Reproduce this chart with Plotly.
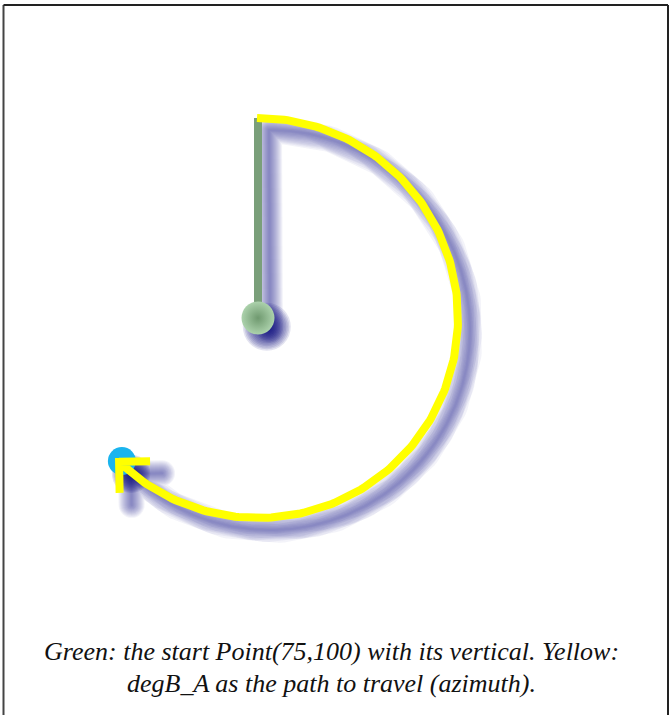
import numpy as np
import plotly.graph_objects as go

# ---- data ----
start_point = [75, 100]          # Point(75,100)
vertical_length = [50]           # length of the vertical (north) reference
degB_A = [224]                   # azimuth to travel (clockwise from north)
caption_lines = ["Green: the start Point(75,100) with its vertical. Yellow:",
                 "degB_A as the path to travel (azimuth)."]

# ---- styles ----
W, H = 670, 715
PX = 4.0                         # pixels per unit
cpx, cpy = 258.0, 318.0          # pixel position of start point
x_range = [start_point[0] - cpx / PX, start_point[0] + (W - cpx) / PX]
y_range = [start_point[1] - (H - cpy) / PX, start_point[1] + cpy / PX]

cx, cy = start_point
r = vertical_length[0]
az = degB_A[0]

# arc geometry (azimuth: clockwise from north)
theta = np.radians(np.linspace(0, az, 240))
ax_ = cx + r * np.sin(theta)
ay_ = cy + r * np.cos(theta)
t_end = np.radians(az)
tipx, tipy = ax_[-1], ay_[-1]
dx, dy = np.cos(t_end), -np.sin(t_end)   # travel direction at the tip
bx, by = -dx, -dy
arm = 31 / PX


def rot(vx, vy, a):
    ca, sa = np.cos(a), np.sin(a)
    return vx * ca - vy * sa, vx * sa + vy * ca


a1 = rot(bx, by, np.radians(45))
a2 = rot(bx, by, np.radians(-45))
yx = [cx - 1 / PX] + list(ax_) + [tipx + arm * a1[0], tipx, tipx + arm * a2[0]]
yy = [cy + r] + list(ay_) + [tipy + arm * a1[1], tipy, tipy + arm * a2[1]]

gx = [cx, cx]
gy = [cy, cy + r]

# shadow path: vertical + arc + arrow as one polyline, offset down-right
off = 12 / PX
sx = [v + off for v in gx[:1] + yx]
sy = [v - off for v in gy[:1] + yy]

fig = go.Figure()

shadow_rgb = "30,30,150"
for w in range(2, 27, 2):
    fig.add_trace(go.Scatter(x=sx, y=sy, mode="lines",
                             line=dict(color=f"rgba({shadow_rgb},0.055)", width=w),
                             hoverinfo="skip", showlegend=False))
for s in range(6, 50, 3):
    fig.add_trace(go.Scatter(x=[cx + 2.2, tipx + off], y=[cy - 2.2, tipy - off], mode="markers",
                             marker=dict(size=[s, s * 0.8], color="rgba(15,15,130,0.17)", line=dict(width=0)),
                             hoverinfo="skip", showlegend=False))

# green vertical
fig.add_trace(go.Scatter(x=gx, y=gy, mode="lines",
                         line=dict(color="#7a9f7a", width=8),
                         hoverinfo="skip", showlegend=False))
# green start point
fig.add_trace(go.Scatter(x=[cx], y=[cy], mode="markers",
                         marker=dict(size=33, color="#acd2ac",
                                     gradient=dict(type="radial", color="#6f996f"),
                                     line=dict(width=0)),
                         hoverinfo="skip", showlegend=False))
# cyan end point
fig.add_trace(go.Scatter(x=[tipx + 0.7], y=[tipy + 0.2], mode="markers",
                         marker=dict(size=28, color="#1ab4ee", line=dict(width=0)),
                         hoverinfo="skip", showlegend=False))
# yellow path with arrow
fig.add_trace(go.Scatter(x=yx, y=yy, mode="lines",
                         line=dict(color="#ffff00", width=8),
                         hoverinfo="skip", showlegend=False))

# border (left, top, right)
fig.add_shape(type="line", xref="paper", yref="paper", x0=3.5 / W, x1=3.5 / W, y0=-0.05, y1=1 - 5 / H,
              line=dict(color="#444444", width=2))
fig.add_shape(type="line", xref="paper", yref="paper", x0=3.5 / W, x1=668 / W, y0=1 - 5 / H, y1=1 - 5 / H,
              line=dict(color="#222222", width=2))
fig.add_shape(type="line", xref="paper", yref="paper", x0=668 / W, x1=668 / W, y0=-0.05, y1=1 - 5 / H,
              line=dict(color="#222222", width=2))

for line, ypx in zip(caption_lines, [651, 683]):
    fig.add_annotation(xref="paper", yref="paper", x=331 / W, y=1 - ypx / H,
                       text=f"<i>{line}</i>", showarrow=False,
                       font=dict(family="Liberation Serif", size=26, color="#111111"),
                       xanchor="center", yanchor="middle", align="center")

fig.update_layout(width=W, height=H, margin=dict(l=0, r=0, t=0, b=0),
                  paper_bgcolor="white", plot_bgcolor="white",
                  xaxis=dict(range=x_range, visible=False, fixedrange=True),
                  yaxis=dict(range=y_range, visible=False, fixedrange=True))

post = (
    "document.body.style.margin='0';document.body.style.overflow='hidden';"
    "document.querySelectorAll('path.js-line').forEach(function(p){"
    "var s=p.style.stroke||'';if(s.indexOf('30, 30, 150')>=0){"
    "p.style.strokeLinecap='round';p.style.strokeLinejoin='round';}});"
)
fig.write_html("out.html", config={"displayModeBar": False}, post_script=post)
